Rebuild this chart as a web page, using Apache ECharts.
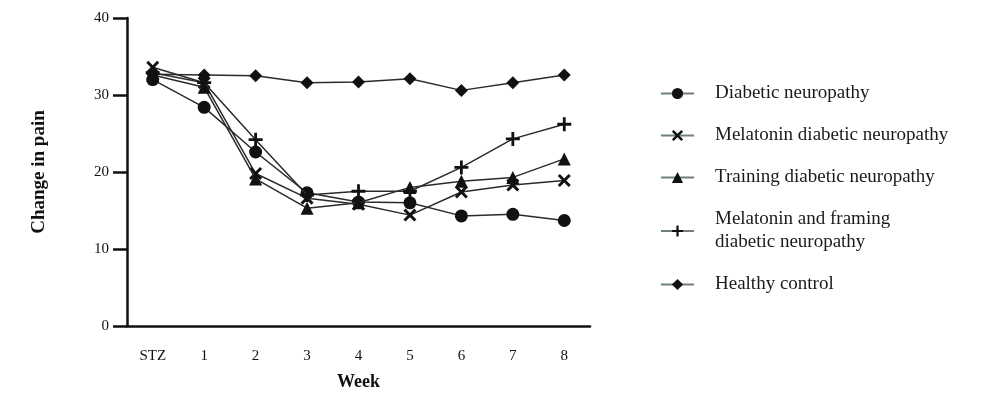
<!DOCTYPE html>
<html>
<head>
<meta charset="utf-8">
<script src="https://cdn.jsdelivr.net/npm/echarts@6/dist/echarts.min.js"></script>
<style>
html,body{margin:0;padding:0;background:#fff;}
#chart{width:1000px;height:394px;}
</style>
</head>
<body>
<div id="chart"></div>
<script>
var weeks = ['STZ','1','2','3','4','5','6','7','8'];
var yTicks = [0,10,20,30,40];
var seriesNames = ['Diabetic neuropathy','Melatonin diabetic neuropathy','Training diabetic neuropathy','Melatonin and framing\ndiabetic neuropathy','Healthy control'];
var diabetic = [32.0, 28.4, 22.6, 17.3, 16.1, 16.0, 14.3, 14.5, 13.7];
var melatonin = [33.6, 31.6, 19.8, 16.6, 15.8, 14.4, 17.4, 18.3, 18.9];
var training = [32.6, 31.0, 19.1, 15.3, 16.0, 18.0, 18.8, 19.3, 21.7];
var melFraming = [32.9, 31.6, 24.2, 17.0, 17.5, 17.5, 20.6, 24.3, 26.2];
var healthy = [32.7, 32.6, 32.5, 31.6, 31.7, 32.1, 30.6, 31.6, 32.6];

var X_PATH = 'path://M0,1.6L1.6,0L5,3.4L8.4,0L10,1.6L6.6,5L10,8.4L8.4,10L5,6.6L1.6,10L0,8.4L3.4,5Z';
var PLUS_PATH = 'path://M4,0H6V4H10V6H6V10H4V6H0V4H4Z';

var dataSets = [diabetic, melatonin, training, melFraming, healthy];
var symbols = ['circle', X_PATH, 'triangle', PLUS_PATH, 'diamond'];
var sizes = [13, 13, 13, 14, 13];

var font = '"Liberation Serif", "Times New Roman", serif';
var chart = echarts.init(document.getElementById('chart'));
var series = dataSets.map(function(d, i){
  return {
    name: seriesNames[i],
    type: 'line',
    data: d,
    symbol: symbols[i],
    symbolSize: sizes[i],
    showAllSymbol: true,
    itemStyle: {color: '#111'},
    lineStyle: {color: '#2b2b2b', width: 1.5},
    z: 2 + i,
    animation: false
  };
});

chart.setOption({
  animation: false,
  backgroundColor: '#fff',
  grid: {left: 127, right: 410, top: 18, bottom: 68, outerBoundsMode: 'none', containLabel: false},
  legend: {
    orient: 'vertical',
    left: 655,
    top: 77,
    itemWidth: 33,
    itemHeight: 14,
    itemGap: 19,
    data: seriesNames,
    lineStyle: {color: '#6f8080', width: 2},
    itemStyle: {color: '#111'},
    textStyle: {fontFamily: font, fontSize: 19, color: '#1a1a1a', padding: [0,0,0,16], lineHeight: 23}
  },
  xAxis: {
    type: 'category',
    data: weeks,
    boundaryGap: true,
    name: 'Week',
    nameLocation: 'middle',
    nameGap: 47,
    nameTextStyle: {fontFamily: font, fontWeight: 'bold', fontSize: 18, color: '#111'},
    axisLine: {lineStyle: {color: '#111', width: 2.5}},
    axisTick: {alignWithLabel: true, length: 12, lineStyle: {color: '#111', width: 2.5}},
    axisLabel: {fontFamily: font, fontSize: 15, color: '#111', margin: 23},
    splitLine: {show: false}
  },
  yAxis: {
    type: 'value',
    min: 0,
    max: 40,
    interval: 10,
    name: 'Change in pain',
    nameLocation: 'middle',
    nameGap: 78,
    nameRotate: 90,
    nameTextStyle: {fontFamily: font, fontWeight: 'bold', fontSize: 19, color: '#111'},
    axisLine: {show: true, lineStyle: {color: '#111', width: 2.5}},
    axisTick: {show: true, length: 14, lineStyle: {color: '#111', width: 2.5}},
    axisLabel: {fontFamily: font, fontSize: 15, color: '#111', margin: 18,
      formatter: function(v){ return yTicks.indexOf(v) >= 0 ? String(v) : ''; }},
    splitLine: {show: false}
  },
  series: series
});
</script>
</body>
</html>
